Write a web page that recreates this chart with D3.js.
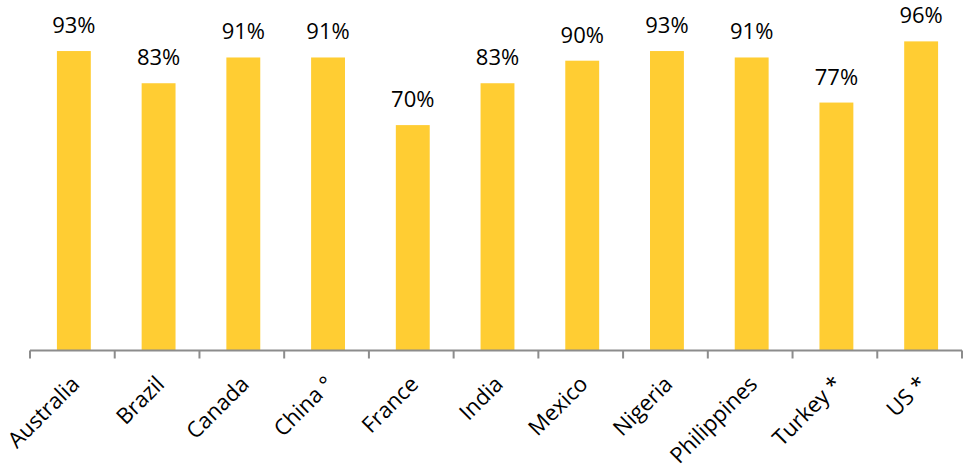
<!DOCTYPE html>
<html><head><meta charset="utf-8">
<script src="https://cdn.jsdelivr.net/npm/d3@7"></script>
<style>body{margin:0;background:#fff}</style>
</head><body>
<svg id="c" width="964" height="470"></svg>
<script>
const categories = ["Australia","Brazil","Canada","China °","France","India","Mexico","Nigeria","Philippines","Turkey *","US *"];
const values = [93,83,91,91,70,83,90,93,91,77,96];

const svg = d3.select("#c");
const x0 = 30, x1 = 962, yBase = 350.5, yTop = 28.5;
const font = "'Open Sans', sans-serif";

const x = d3.scaleBand().domain(categories).range([x0, x1]).paddingInner(0.6).paddingOuter(0.3);
const y = d3.scaleLinear().domain([0, 100]).range([yBase, yTop]);

svg.selectAll("rect.bar").data(categories).join("rect")
  .attr("class","bar")
  .attr("x", d => x(d) + 1.5)
  .attr("width", x.bandwidth())
  .attr("y", (d,i) => y(values[i]))
  .attr("height", (d,i) => yBase - y(values[i]))
  .attr("fill", "#FFCD33");

svg.selectAll("text.val").data(categories).join("text")
  .attr("class","val")
  .attr("x", d => x(d) + 1.5 + x.bandwidth()/2)
  .attr("y", (d,i) => y(values[i]) - 18)
  .attr("text-anchor","middle")
  .attr("font-family", font).attr("font-size", 22).attr("fill","#000")
  .text((d,i) => values[i] + "%");

// axis with ticks between categories
const step = (x1 - x0) / categories.length;
const ax = svg.append("g");
ax.append("line").attr("x1", x0).attr("x2", x1).attr("y1", yBase).attr("y2", yBase)
  .attr("stroke", "#8c8c8c").attr("stroke-width", 2);
ax.selectAll("line.tk").data(d3.range(categories.length + 1)).join("line")
  .attr("class","tk")
  .attr("x1", i => x0 + i*step).attr("x2", i => x0 + i*step)
  .attr("y1", yBase).attr("y2", yBase + 8)
  .attr("stroke", "#8c8c8c").attr("stroke-width", 2);

svg.selectAll("text.cat").data(categories).join("text")
  .attr("class","cat")
  .attr("transform", d => `translate(${x(d) + 1.5 + x.bandwidth()/2 + 7},${yBase + 35}) rotate(-45)`)
  .attr("text-anchor","end")
  .attr("font-family", font).attr("font-size", 22).attr("fill","#000")
  .text(d => d);
</script>
</body></html>
